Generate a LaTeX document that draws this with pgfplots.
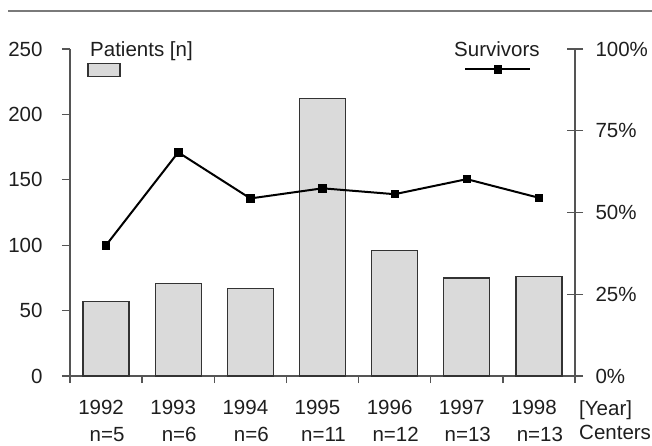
\documentclass[border=0pt]{standalone}
\usepackage{pgfplots}
\pgfplotsset{compat=1.18}
\usepackage{fontspec}
\setmainfont{Liberation Sans}
\definecolor{axisgray}{HTML}{555555}
\definecolor{barfill}{HTML}{DADADA}
\definecolor{txt}{HTML}{1E1E1E}
\definecolor{rulegray}{HTML}{7A7A7A}

\pgfplotsset{
  common/.style={
    at={(70pt,69pt)}, anchor=south west,
    scale only axis, width=505pt, height=327pt,
    xmin=0, xmax=7,
    /pgf/number format/assume math mode=true,
    tick label style={font=\fontsize{20.5}{24}\selectfont, text=txt},
    axis line style={axisgray, line width=1.3pt, -},
    every tick/.style={axisgray, line width=1.3pt},
    clip=false,
  },
  barlegend/.style={legend image code/.code={\draw[fill=barfill, draw=black!80, line width=1.2pt] (0pt,-6.5pt) rectangle (32pt,6.5pt);}},
  linelegend/.style={legend image code/.code={\draw[mark repeat=2, mark phase=2, ##1] plot coordinates {(0pt,0pt) (32.5pt,0pt) (65pt,0pt)};}},
}

\begin{document}
\begin{tikzpicture}[x=1pt,y=1pt]
\useasboundingbox (0,0) rectangle (652,445);
\draw[rulegray, line width=1.5pt] (8,434) -- (652,434);

\begin{axis}[
  common,
  ymin=0, ymax=250,
  axis x line*=bottom, axis y line*=left,
  ytick={0,50,...,250},
  xtick={0.5,1.5,...,6.5},
  xticklabels={1992,1993,1994,1995,1996,1997,1998},
  minor xtick={0,1,...,7},
  tick align=outside,
  major tick length=8pt,
  minor tick length=7pt,
  major x tick style={draw=none},
  xticklabel style={anchor=base, inner sep=0pt, xshift=-5pt, yshift=-30pt},
  yticklabel style={xshift=-16pt},
  legend style={at={(axis description cs:0.0683,0.937)}, anchor=center,
    draw=none, fill=none, inner sep=0pt, outer sep=0pt,
    nodes={inner sep=0pt, outer sep=0pt}},
]
\addplot[ybar, bar width=46pt, fill=barfill, draw=black!80, line width=1.2pt, barlegend]
  coordinates {(0.5,57) (1.5,71) (2.5,67) (3.5,212) (4.5,96) (5.5,75) (6.5,76)};
\addlegendentry{}
\end{axis}

\begin{axis}[
  common,
  ymin=0, ymax=100,
  axis y line*=right, axis x line*=bottom,
  x axis line style={draw=none},
  ytick={0,25,...,100},
  yticklabel={\pgfmathprintnumber{\tick}\%},
  xtick={0.5,1.5,...,6.5},
  xticklabels={n=5,n=6,n=6,n=11,n=12,n=13,n=13},
  major x tick style={draw=none},
  tick align=center,
  major tick length=16pt,
  xticklabel style={anchor=base, inner sep=0pt, xshift=1pt, yshift=-57pt},
  yticklabel style={anchor=west, xshift=9pt},
  legend style={at={(axis description cs:0.8485,0.938)}, anchor=center,
    draw=none, fill=none, inner sep=0pt, outer sep=0pt,
    nodes={inner sep=0pt, outer sep=0pt}},
]
\addplot[black, line width=2pt, mark=square*, mark size=3.7pt,
  mark options={solid, line width=0.8pt}, linelegend]
  coordinates {(0.5,40) (1.5,68.4) (2.5,54.3) (3.5,57.4) (4.5,55.6) (5.5,60.2) (6.5,54.5)};
\addlegendentry{}
\end{axis}

\begin{scope}[font=\fontsize{20.5}{24}\selectfont, text=txt]
\node[anchor=base west, inner sep=0pt] at (90,388) {Patients [n]};
\node[anchor=base west, inner sep=0pt] at (454,388) {Survivors};
\node[anchor=base west, inner sep=0pt] at (579,30) {[Year]};
\node[anchor=base west, inner sep=0pt] at (579,6) {Centers};
\end{scope}
\end{tikzpicture}
\end{document}
